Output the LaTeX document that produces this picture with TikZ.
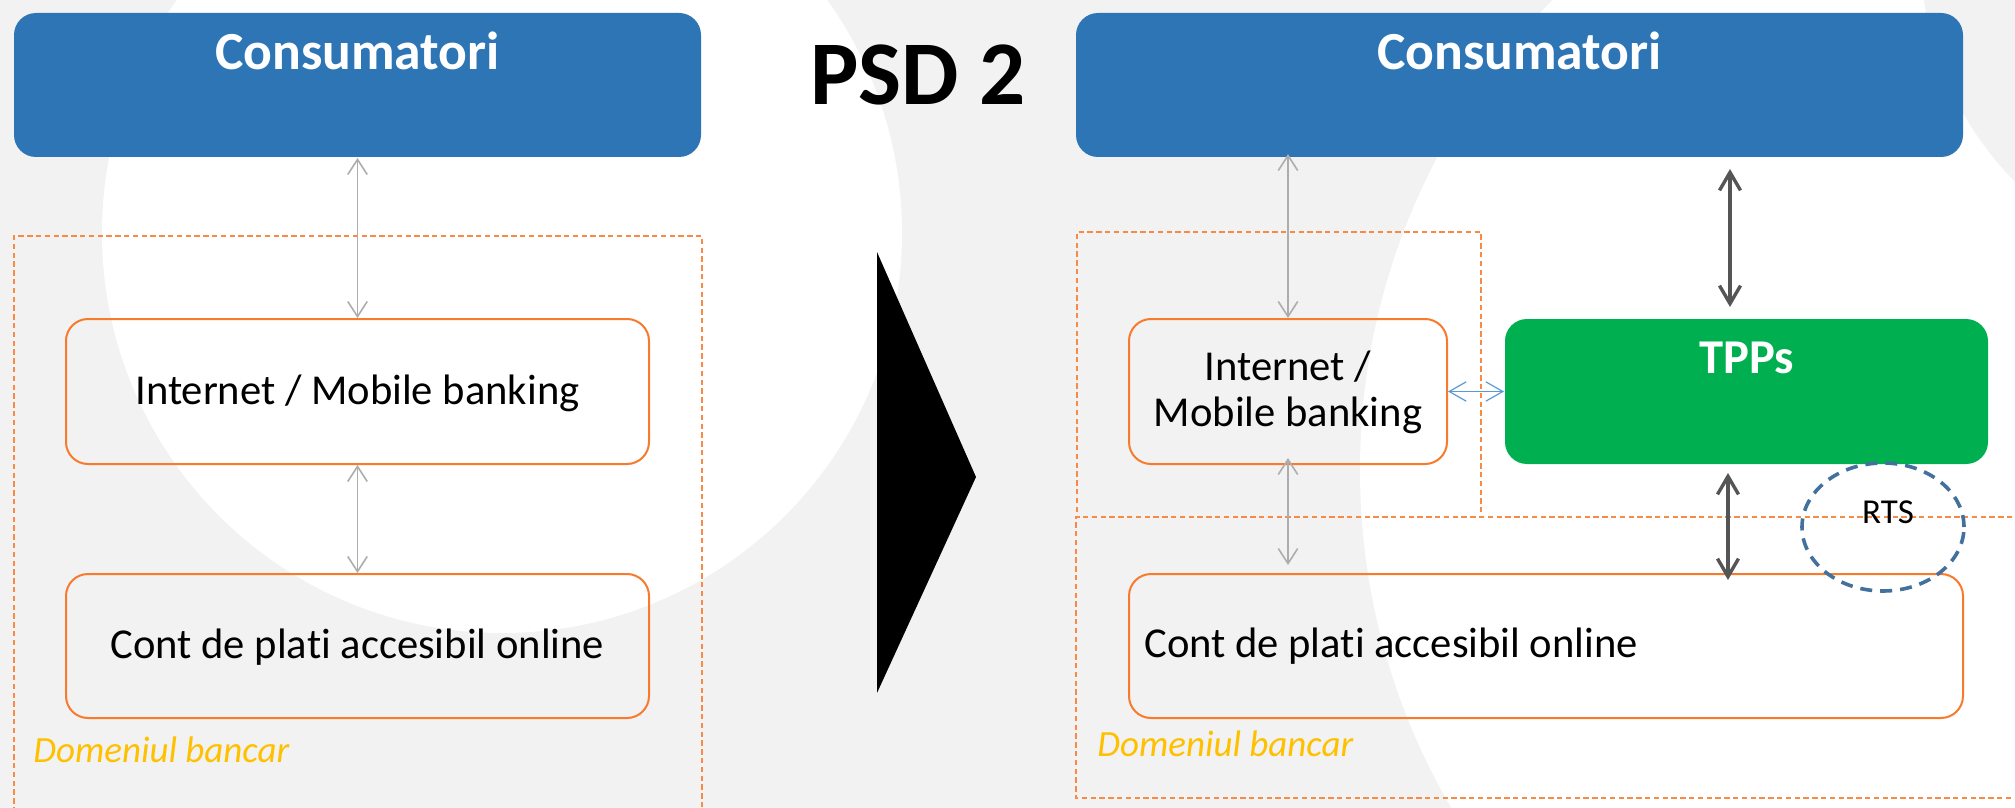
\documentclass[tikz,border=0pt]{standalone}
\usepackage{fontspec}
\setmainfont{Carlito}[Ligatures=CommonOff]
\usetikzlibrary{arrows.meta,shapes.geometric}
\definecolor{cbg}{HTML}{F2F2F2}
\definecolor{cblue}{HTML}{2E75B6}
\definecolor{cgreen}{HTML}{00B050}
\definecolor{corange}{HTML}{F87A2C}
\definecolor{cdash}{HTML}{F78A45}
\definecolor{cgray}{HTML}{ADADAD}
\definecolor{cdark}{HTML}{555555}
\definecolor{clblue}{HTML}{5B9BD5}
\definecolor{crts}{HTML}{41719C}
\definecolor{cgold}{HTML}{FFC000}
\begin{document}
\begin{tikzpicture}[x=0.5pt,y=-0.5pt,
  box/.style={rectangle, rounded corners=11pt, inner sep=0pt, line width=1pt},
  bluebox/.style={box, fill=cblue, draw=none, minimum height=72pt},
  greenbox/.style={box, fill=cgreen, draw=none},
  obox/.style={box, draw=corange},
  dashbox/.style={draw=cdash, line width=0.8pt, dash pattern=on 2.7pt off 1.7pt},
  thinarr/.style={draw=cgray, line width=0.8pt, arrows={Straight Barb[length=7.5pt,width=9.7pt]-Straight Barb[length=7.5pt,width=9.7pt]}},
  thickarr/.style={draw=cdark, line width=1.7pt, arrows={Straight Barb[length=9pt,width=10.5pt]-Straight Barb[length=9pt,width=10.5pt]}},
  bluearr/.style={draw=clblue, line width=0.6pt, arrows={Straight Barb[length=8.5pt,width=9.7pt]-Straight Barb[length=8.5pt,width=9.7pt]}},
  headtxt/.style={anchor=base, text=white, font=\fontsize{26.8}{31}\selectfont\bfseries, inner sep=0pt},
  boxtxt/.style={anchor=base, text=black, font=\fontsize{21.3}{25}\selectfont, inner sep=0pt},
  domtxt/.style={anchor=base west, text=cgold, font=\fontsize{18.5}{22}\selectfont\itshape, inner sep=0pt}
]
\useasboundingbox (0,0) rectangle (2015,808);
\begin{scope}
\clip (0,0) rectangle (2015,808);
% background
\fill[cbg] (0,0) rectangle (2015,808);
\fill[white] (502,233) circle[radius=400];
\fill[white] (2030,470) circle[radius=670];
\fill[cbg] (2250,-50) circle[radius=330];
% dashed domains
\draw[dashbox] (14,830) -- (14,236) -- (702,236) -- (702,830);
\draw[dashbox] (1077,512) -- (1077,232) -- (1481,232) -- (1481,512);
\draw[dashbox] (2030,517) -- (1076,517) -- (1076,798) -- (2030,798);
\end{scope}

% left panel
\node[bluebox, minimum width=343.5pt] (cons1) at (357.5,85) {};
\node[headtxt] (cons1t) at (357.5,70) {Consumatori};
\node[obox, minimum width=291.5pt, minimum height=72.5pt] (inet1) at (357.5,391.5) {};
\node[boxtxt] (inet1t) at (357.5,404) {Internet / Mobile banking};
\node[obox, minimum width=291.5pt, minimum height=72pt] (cont1) at (357.5,646) {};
\node[boxtxt] (cont1t) at (357.5,658) {Cont de plati accesibil online};
\node[domtxt] (dom1) at (33,762) {Domeniul bancar};
\draw[thinarr] (cons1.south) -- (inet1.north);
\draw[thinarr] (inet1.south) -- (cont1.north);

% title and big arrow
\node[anchor=base, inner sep=0pt, font=\fontsize{45.5}{50}\selectfont\bfseries] (psd) at (918,105) {PSD 2};
\fill[black] (877,252) -- (976,477) -- (877,693) -- cycle;

% right panel
\node[bluebox, minimum width=443.5pt] (cons2) at (1519.5,85) {};
\node[headtxt] (cons2t) at (1519.5,70) {Consumatori};
\node[obox, minimum width=159pt, minimum height=72.5pt] (inet2) at (1288,391.5) {};
\node[boxtxt] (inet2a) at (1288,380) {Internet /};
\node[boxtxt] (inet2b) at (1288,426) {Mobile banking};
\node[greenbox, minimum width=241.5pt, minimum height=72.5pt] (tpps) at (1746.5,391.5) {};
\node[headtxt, font=\fontsize{24.3}{28}\selectfont\bfseries] (tppst) at (1746.5,373) {TPPs};
\node[obox, minimum width=417pt, minimum height=72pt] (cont2) at (1546,646) {};
\node[boxtxt, anchor=base west] (cont2t) at (1144,657) {Cont de plati accesibil online};
\node[domtxt] (dom2) at (1097,756) {Domeniul bancar};
\node[ellipse, draw=crts, line width=1.8pt, dash pattern=on 6pt off 4pt, minimum width=81pt, minimum height=64pt, inner sep=0pt] (rts) at (1883,527) {};
\node[boxtxt, font=\fontsize{17.5}{21}\selectfont] (rtst) at (1888,523) {RTS};

\draw[thinarr, shorten <=-2pt] (cons2.south -| inet2.north) -- (inet2.north);
\draw[thinarr, shorten <=-3.5pt, shorten >=4pt] (inet2.south) -- (cont2.north -| inet2.south);
\draw[bluearr] (inet2.east) -- (tpps.west);
\coordinate (ta) at (1730,157);
\coordinate (tb) at (1730,319);
\draw[thickarr, shorten <=6pt, shorten >=6pt] (ta) -- (tb);
\coordinate (tc) at (1728,464);
\coordinate (td) at (1728,574);
\draw[thickarr, shorten <=4.5pt, shorten >=-3pt] (tc) -- (td);
\end{tikzpicture}
\end{document}
